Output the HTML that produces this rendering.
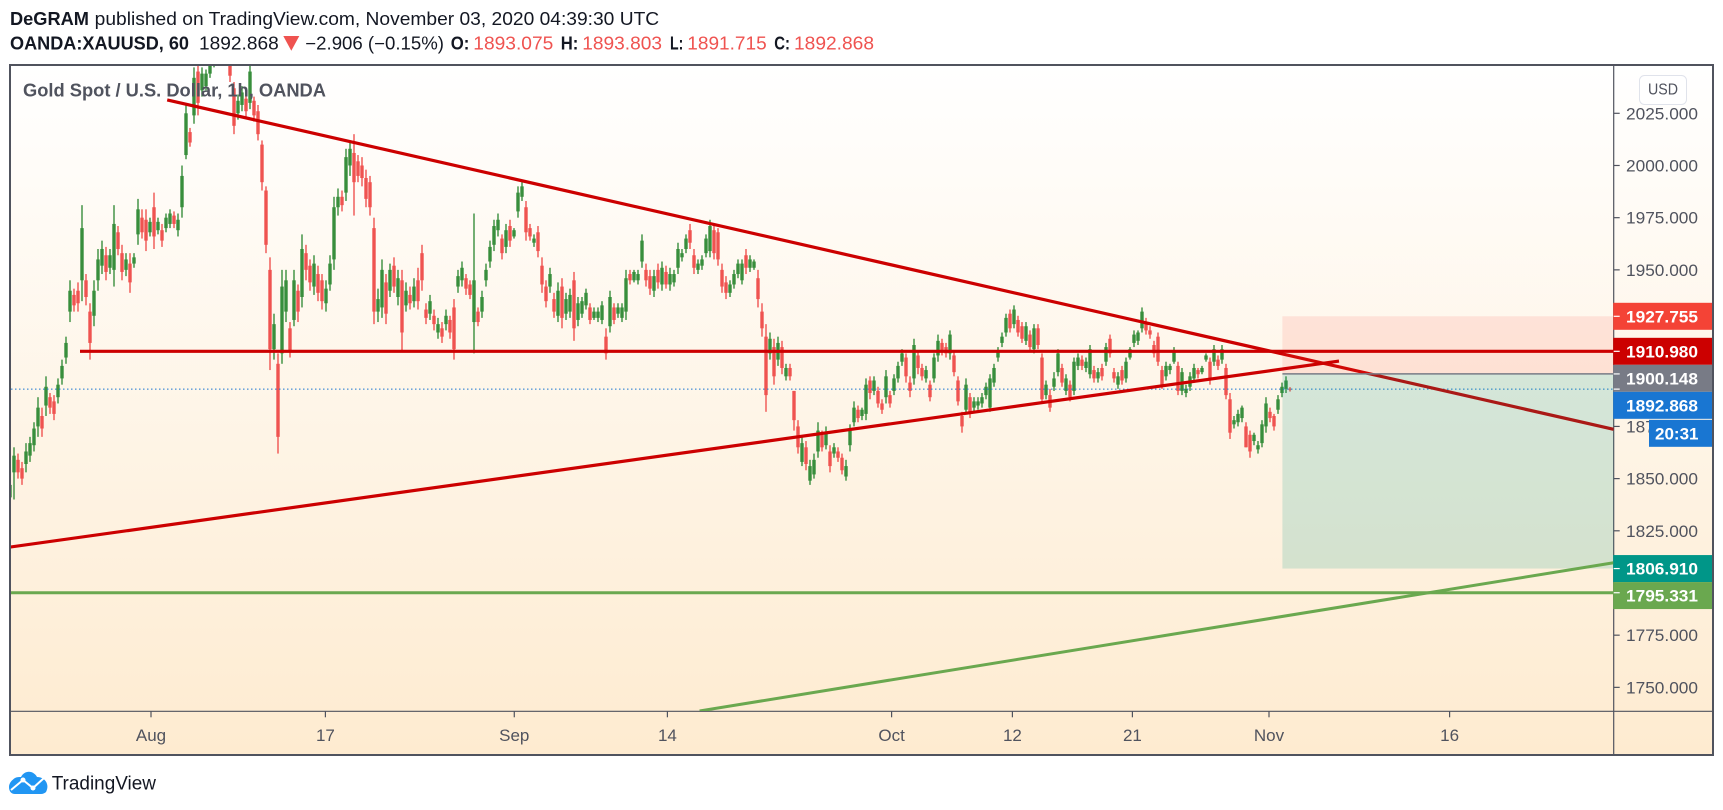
<!DOCTYPE html>
<html lang="en">
<head>
<meta charset="utf-8">
<title>OANDA:XAUUSD chart</title>
<style>
html,body{margin:0;padding:0;background:#fff;}
body{width:1723px;height:810px;overflow:hidden;font-family:"Liberation Sans",sans-serif;}
svg{display:block;}
text{font-family:"Liberation Sans",sans-serif;}
</style>
</head>
<body>
<svg id="chart" xmlns="http://www.w3.org/2000/svg" width="1723" height="810" viewBox="0 0 1723 810">
  <defs>
    <linearGradient id="bgGrad" x1="0" y1="0" x2="0" y2="1">
      <stop offset="0" stop-color="#ffffff"/>
      <stop offset="1" stop-color="#feebd0"/>
    </linearGradient>
    <clipPath id="paneClip"><rect x="11" y="66" width="1602.7" height="645"/></clipPath>
  </defs>

  <g font-size="18" fill="#131722">
    <text x="10" y="25" font-weight="bold" textLength="79" lengthAdjust="spacingAndGlyphs">DeGRAM</text>
    <text x="94.7" y="25" textLength="564.5" lengthAdjust="spacingAndGlyphs">published on TradingView.com, November 03, 2020 04:39:30 UTC</text>
    <text x="10" y="49.3" font-weight="bold" textLength="179" lengthAdjust="spacingAndGlyphs">OANDA:XAUUSD, 60</text>
    <text x="199" y="49.3" textLength="79.7" lengthAdjust="spacingAndGlyphs">1892.868</text>
    <polygon points="283.3,36 299.3,36 291.3,50.7" fill="#ef5350"/>
    <text x="305.3" y="49.3" textLength="138.7" lengthAdjust="spacingAndGlyphs">−2.906 (−0.15%)</text>
    <text x="450.7" y="49.3" font-weight="bold" textLength="18.6" lengthAdjust="spacingAndGlyphs">O:</text>
    <text x="473.3" y="49.3" fill="#ef5350" textLength="80" lengthAdjust="spacingAndGlyphs">1893.075</text>
    <text x="560.7" y="49.3" font-weight="bold" textLength="17.6" lengthAdjust="spacingAndGlyphs">H:</text>
    <text x="582.3" y="49.3" fill="#ef5350" textLength="79.7" lengthAdjust="spacingAndGlyphs">1893.803</text>
    <text x="670" y="49.3" font-weight="bold" textLength="13.3" lengthAdjust="spacingAndGlyphs">L:</text>
    <text x="687.3" y="49.3" fill="#ef5350" textLength="79.4" lengthAdjust="spacingAndGlyphs">1891.715</text>
    <text x="774.3" y="49.3" font-weight="bold" textLength="15.7" lengthAdjust="spacingAndGlyphs">C:</text>
    <text x="794" y="49.3" fill="#ef5350" textLength="80" lengthAdjust="spacingAndGlyphs">1892.868</text>
  </g>

  <rect x="10" y="65" width="1703" height="690" fill="url(#bgGrad)"/>
  <g id="axes"></g>
  <g id="marks" clip-path="url(#paneClip)"></g>
  <text x="23" y="96.7" font-size="18" font-weight="bold" fill="#50535e" textLength="303" lengthAdjust="spacingAndGlyphs">Gold Spot / U.S. Dollar, 1h, OANDA</text>
  <g id="tags"></g>

  <g>
    <rect x="1639.5" y="75.5" width="47" height="29" rx="5" fill="#ffffff" fill-opacity="0.8" stroke="#e0e3eb"/>
    <text x="1663" y="94.5" font-size="16" fill="#50535e" text-anchor="middle" textLength="30" lengthAdjust="spacingAndGlyphs">USD</text>
  </g>

  <rect x="10" y="65" width="1703" height="690" fill="none" stroke="#50535e" stroke-width="2"/>

  <g>
    <path d="M9 787c0-4 3-7 6-9 2-1 4-1 6-1 2-4 6-6 10-5 3 1 5 3 6 5 5 0 9 3 10 7 1 3 0 6-1 8-1 1-3 2-5 2H15c-4 0-6-3-6-7z" fill="#2196f3"/>
    <polyline points="11,790 23,780 33,788 44,778" fill="none" stroke="#ffffff" stroke-width="2"/>
    <circle cx="23" cy="780" r="2.5" fill="#ffffff"/>
    <circle cx="33" cy="788" r="2.5" fill="#ffffff"/>
    <text x="51.7" y="789.3" font-size="19" fill="#131722" textLength="104.3" lengthAdjust="spacingAndGlyphs">TradingView</text>
  </g>
</svg>
<script>
/* hourly candles, one bar per array slot; values in USD */
const opens = [
1841,1853,1859,1855,1857,1861,1866,1875,1880,1885,
1889,1887,1889,1898,1908,1930,1938,1940,1945,1945,
1930,1928,1945,1952,1957,1951,1950,1968,1958,1950,
1953,1953,1967,1975,1974,1968,1980,1969,1969,1970,
1972,1976,1969,1980,2005,2016,2024,2045,2036,2038,
2044,2050,2056,2069,2063,2055,2037,2025,2029,2032,
2030,2031,2026,2010,1988,1950,1912,1905,1910,1930,
1922,1926,1940,1937,1958,1952,1942,1948,1945,1934,
1943,1955,1980,1985,1987,2000,2006,2002,2000,1994,
1992,1970,1930,1932,1944,1940,1952,1937,1945,1933,
1938,1935,1945,1958,1931,1929,1928,1920,1922,1924,
1926,1932,1942,1945,1946,1943,1925,1930,1930,1945,
1954,1962,1969,1965,1961,1971,1966,1978,1985,1980,
1970,1963,1968,1952,1942,1942,1936,1928,1942,1929,
1930,1945,1926,1929,1933,1932,1927,1927,1926,1918,
1923,1932,1929,1927,1930,1948,1945,1945,1954,1950,
1947,1940,1950,1943,1949,1943,1944,1951,1956,1960,
1969,1957,1950,1952,1958,1959,1969,1968,1950,1944,
1939,1943,1948,1945,1957,1951,1951,1946,1930,1918,
1910,1913,1907,1913,1899,1903,1892,1875,1858,1865,
1849,1852,1863,1871,1866,1863,1862,1863,1860,1851,
1866,1877,1883,1880,1881,1897,1892,1892,1886,1889,
1890,1892,1898,1906,1908,1896,1898,1909,1903,1898,
1895,1898,1909,1915,1913,1910,1909,1897,1880,1883,
1889,1884,1885,1886,1890,1884,1896,1908,1915,1920,
1929,1924,1926,1923,1916,1919,1912,1922,1908,1890,
1890,1894,1901,1903,1892,1895,1892,1904,1907,1903,
1900,1902,1898,1903,1906,1917,1901,1895,1902,1898,
1908,1915,1916,1922,1925,1921,1914,1918,1902,1899,
1902,1906,1904,1892,1891,1894,1898,1902,1901,1907,
1906,1906,1907,1907,1903,1888,1876,1877,1879,1875,
1871,1868,1864,1867,1875,1882,1880,1883,1891,1893,
1893.075];
const highs = [
1850,1865,1862,1858,1867,1870,1877,1889,1884,1899,
1891,1890,1898,1907,1918,1945,1941,1944,1981,1948,
1934,1945,1960,1964,1961,1960,1981,1971,1962,1958,
1958,1958,1984,1979,1979,1975,1987,1975,1972,1977,
1979,1978,1977,2000,2029,2018,2047,2052,2047,2046,
2052,2060,2068,2072,2066,2058,2040,2034,2038,2035,
2055,2033,2029,2012,1990,1956,1929,1910,1950,1950,
1925,1950,1943,1967,1962,1955,1957,1952,1948,1945,
1957,1985,1989,1988,2008,2011,2015,2005,2004,1998,
1995,1975,1941,1955,1948,1953,1956,1950,1950,1944,
1942,1946,1951,1962,1934,1938,1931,1927,1925,1931,
1928,1936,1950,1954,1948,1945,1977,1932,1940,1953,
1964,1974,1977,1967,1972,1974,1970,1990,1992,1983,
1972,1967,1971,1956,1945,1951,1939,1944,1946,1939,
1941,1949,1937,1937,1941,1934,1932,1932,1935,1922,
1940,1934,1934,1934,1950,1950,1950,1950,1967,1953,
1950,1950,1953,1954,1952,1951,1950,1963,1960,1967,
1972,1960,1955,1957,1967,1974,1972,1970,1953,1947,
1945,1950,1955,1955,1960,1957,1955,1950,1934,1924,
1920,1917,1918,1916,1905,1905,1892,1878,1870,1868,
1859,1862,1877,1873,1875,1866,1867,1865,1862,1859,
1876,1887,1885,1884,1898,1899,1899,1894,1888,1902,
1892,1900,1906,1912,1910,1899,1917,1911,1905,1904,
1897,1910,1919,1917,1915,1921,1911,1899,1882,1898,
1891,1889,1889,1891,1896,1900,1905,1913,1920,1929,
1931,1933,1928,1925,1925,1921,1924,1924,1910,1897,
1893,1901,1912,1905,1900,1897,1908,1910,1909,1908,
1914,1904,1903,1905,1915,1919,1903,1901,1904,1908,
1913,1921,1921,1932,1927,1923,1916,1920,1904,1906,
1905,1913,1906,1903,1895,1901,1905,1903,1904,1910,
1908,1914,1909,1914,1905,1891,1880,1883,1885,1877,
1873,1872,1868,1878,1889,1884,1881,1890,1896,1899,
1893.803];
const lows = [
1838,1840,1850,1847,1853,1858,1863,1870,1870,1880,
1881,1878,1886,1895,1905,1925,1930,1930,1935,1933,
1907,1923,1940,1948,1945,1948,1942,1957,1945,1947,
1939,1951,1962,1965,1959,1966,1960,1967,1961,1968,
1970,1970,1966,1975,2003,2009,2020,2024,2033,2036,
2042,2047,2053,2057,2052,2040,2015,2022,2026,2023,
2027,2021,2012,1988,1958,1902,1907,1862,1905,1925,
1908,1923,1925,1932,1945,1940,1938,1935,1931,1930,
1940,1950,1976,1978,1983,1995,1976,1992,1990,1980,
1976,1924,1925,1927,1924,1937,1939,1933,1911,1930,
1931,1932,1931,1940,1924,1926,1921,1917,1915,1921,
1917,1907,1939,1942,1938,1936,1910,1923,1927,1942,
1951,1959,1966,1955,1958,1961,1965,1975,1983,1964,
1964,1961,1956,1939,1932,1939,1927,1925,1922,1926,
1927,1916,1923,1927,1931,1924,1926,1925,1924,1907,
1920,1924,1927,1925,1926,1943,1944,1943,1951,1942,
1938,1937,1941,1940,1941,1940,1942,1948,1954,1958,
1960,1948,1948,1950,1956,1956,1955,1952,1939,1936,
1937,1941,1946,1943,1948,1949,1950,1932,1918,1882,
1907,1895,1904,1900,1897,1897,1873,1862,1856,1854,
1847,1850,1860,1863,1864,1853,1860,1858,1852,1849,
1863,1875,1877,1878,1878,1888,1890,1884,1881,1886,
1884,1890,1896,1904,1896,1889,1895,1900,1897,1896,
1887,1896,1906,1909,1908,1907,1899,1885,1872,1881,
1879,1882,1883,1884,1888,1882,1894,1906,1913,1918,
1920,1922,1918,1915,1914,1911,1910,1912,1886,1888,
1882,1892,1899,1894,1890,1887,1890,1902,1902,1901,
1898,1896,1896,1897,1904,1908,1896,1893,1895,1896,
1907,1913,1914,1920,1919,1917,1908,1904,1893,1897,
1900,1905,1890,1890,1889,1892,1896,1898,1900,1906,
1895,1904,1902,1905,1888,1869,1874,1875,1877,1865,
1860,1866,1862,1865,1872,1877,1873,1881,1889,1891,
1891.715];
const closes = [
1847,1861,1853,1850,1863,1867,1874,1884,1874,1894,
1884,1881,1895,1904,1915,1940,1933,1934,1970,1937,
1915,1940,1955,1960,1949,1957,1972,1960,1949,1955,
1944,1956,1979,1968,1964,1973,1966,1973,1964,1975,
1977,1972,1974,1995,2025,2011,2042,2030,2044,2044,
2050,2057,2065,2060,2055,2043,2019,2031,2035,2026,
2045,2024,2015,1992,1962,1912,1924,1870,1942,1945,
1911,1945,1930,1960,1950,1944,1953,1939,1935,1941,
1953,1980,1985,1981,2004,2008,1992,1995,1994,1984,
1980,1930,1936,1950,1929,1950,1942,1946,1920,1940,
1934,1942,1935,1945,1927,1935,1924,1924,1918,1928,
1920,1912,1947,1951,1941,1938,1945,1925,1937,1950,
1961,1971,1974,1958,1969,1964,1969,1987,1990,1968,
1966,1965,1959,1943,1935,1948,1930,1940,1927,1936,
1938,1922,1934,1935,1939,1926,1930,1930,1933,1910,
1937,1926,1932,1932,1946,1945,1949,1948,1964,1945,
1941,1947,1944,1951,1943,1948,1948,1960,1958,1965,
1963,1951,1953,1955,1965,1971,1958,1955,1942,1939,
1943,1948,1953,1953,1951,1955,1954,1936,1922,1890,
1917,1899,1915,1903,1903,1899,1878,1865,1867,1857,
1856,1859,1873,1865,1872,1856,1865,1860,1854,1856,
1873,1884,1879,1883,1895,1891,1897,1886,1883,1899,
1886,1898,1904,1910,1899,1892,1914,1903,1899,1902,
1889,1908,1916,1911,1910,1919,1901,1887,1875,1895,
1881,1887,1887,1889,1894,1898,1903,1911,1918,1927,
1922,1931,1920,1917,1923,1913,1922,1914,1888,1895,
1884,1898,1910,1896,1898,1889,1906,1908,1904,1906,
1912,1898,1901,1899,1913,1910,1898,1899,1897,1906,
1912,1919,1920,1930,1921,1919,1910,1906,1895,1904,
1904,1911,1892,1901,1893,1899,1903,1900,1903,1909,
1897,1912,1904,1912,1890,1872,1878,1881,1884,1865,
1863,1871,1866,1876,1886,1879,1875,1888,1894,1897,
1892.868];

/* axis data */
const priceTicks = [2025, 2000, 1975, 1950, 1875, 1850, 1825, 1775, 1750];
const timeLabels = ["Aug", "17", "Sep", "14", "Oct", "12", "21", "Nov", "16"];
const timeBars = [35.25, 78.85, 126.07, 164.35, 220.4, 250.6, 280.6, 314.75, 359.9];

/* drawing-tool anchors as [bar, price] */
const resistanceTrend = [[39.3, 2031.4], [400.9, 1873.6]];
const supportTrend = [[0, 1817.2], [332.25, 1906.3]];
const lowerGreenTrend = [[172.4, 1738.7], [400.9, 1809.7]];
const entryLevel = [[17.5, 1910.98], [400.9, 1910.98]];
const targetLevel = [[0, 1795.331], [400.9, 1795.331]];
const positionBars = [318.1, 400.9];
const positionPrices = [1927.755, 1900.148, 1806.91];

/* labelled prices on the right axis */
const lastPrice = 1892.868;
const countdown = "20:31";

const NS = "http://www.w3.org/2000/svg";
function xOfBar(b) { return 10 + b * 4; }
function yOfPrice(p) { return 113.3 + (2025 - p) * 2.0875; }
function mk(tag, attrs, parent) {
  const el = document.createElementNS(NS, tag);
  for (const k in attrs) el.setAttribute(k, attrs[k]);
  parent.appendChild(el);
  return el;
}

const axes = document.getElementById("axes");
const marks = document.getElementById("marks");
const tags = document.getElementById("tags");
const AXIS = "#50535e";
const PANE_R = 1613.7, PANE_B = 711.3;

/* axis rules */
const priceRule = mk("line", {x1: PANE_R, x2: PANE_R, y1: 65, y2: 755, stroke: AXIS, "stroke-width": 1.2}, axes);


const timeRule = mk("line", {x1: 10, x2: 1713, y1: PANE_B, y2: PANE_B, stroke: AXIS, "stroke-width": 1.2}, axes);



priceTicks.forEach(function (p) {
  const y = yOfPrice(p);
  const tick = mk("line", {x1: PANE_R, x2: PANE_R + 6, y1: y, y2: y, stroke: AXIS, "stroke-width": 1.2}, axes);
  
  
  const label = mk("text", {x: 1626, y: y + 6, "font-size": 17, fill: AXIS, textLength: 72, lengthAdjust: "spacingAndGlyphs"}, axes);
  
  
  label.textContent = p.toFixed(3);
});

timeLabels.forEach(function (t, i) {
  const x = xOfBar(timeBars[i]);
  const tick = mk("line", {x1: x, x2: x, y1: PANE_B, y2: PANE_B + 6, stroke: AXIS, "stroke-width": 1.2}, axes);
  
  
  const label = mk("text", {x: x, y: 741, "font-size": 17, fill: AXIS, "text-anchor": "middle"}, axes);
  
  
  label.textContent = t;
});

/* candles */
const UP = "#388e3c", DOWN = "#ef5350";
opens.forEach(function (o, i) {
  const c = closes[i];
  const color = c >= o ? UP : DOWN;
  const x = xOfBar(i);
  const wick = mk("line", {x1: x, x2: x, y1: yOfPrice(highs[i]), y2: yOfPrice(lows[i]), stroke: color, "stroke-width": 1.4}, marks);
  
  
  const top = yOfPrice(Math.max(o, c));
  const h = Math.max(1, Math.abs(yOfPrice(o) - yOfPrice(c)));
  const body = mk("rect", {x: x - 1.7, y: top, width: 3.4, height: h, fill: color}, marks);
  
  
});

/* last price dotted line */
const lastY = yOfPrice(lastPrice);
const lastLine = mk("line", {x1: 11, x2: PANE_R, y1: lastY, y2: lastY, stroke: "#1976d2", "stroke-width": 1, "stroke-dasharray": "1.5 2.5"}, marks);



function segment(pts, color, width) {
  return mk("line", {x1: xOfBar(pts[0][0]), y1: yOfPrice(pts[0][1]), x2: xOfBar(pts[1][0]), y2: yOfPrice(pts[1][1]), stroke: color, "stroke-width": width}, marks);
}

const resLine = segment(resistanceTrend, "#cc0000", 3.2);



/* short position box */
const px0 = xOfBar(positionBars[0]), px1 = xOfBar(positionBars[1]);
const y0 = yOfPrice(positionPrices[0]), y1 = yOfPrice(positionPrices[1]), y2 = yOfPrice(positionPrices[2]);
const stopZone = mk("rect", {x: px0, y: y0, width: px1 - px0, height: y1 - y0, fill: "#f44336", "fill-opacity": 0.117}, marks);


const targetZone = mk("rect", {x: px0, y: y1, width: px1 - px0, height: y2 - y1, fill: "#009688", "fill-opacity": 0.165}, marks);


const entryRule = mk("line", {x1: px0, x2: px1, y1: y1, y2: y1, stroke: "#787b86", "stroke-width": 1.5}, marks);



const entryLine = segment(entryLevel, "#cc0000", 3.2);


const supLine = segment(supportTrend, "#cc0000", 3.2);


const targetLine = segment(targetLevel, "#6aa84f", 3);


const greenTrend = segment(lowerGreenTrend, "#6aa84f", 3);



/* price tags: stacked so that a tag never overlaps the one above it */
let prevBottom = 0;
function priceTag(price, color, name) {
  const cy = yOfPrice(price);
  const top = Math.max(cy - 13.5, prevBottom);
  prevBottom = top + 27;
  const box = mk("rect", {x: PANE_R - 0.5, y: top, width: 98.8, height: 27, fill: color}, tags);
  
  
  const tick = mk("line", {x1: PANE_R, x2: PANE_R + 6, y1: cy, y2: cy, stroke: "#ffffff", "stroke-width": 1.2}, tags);
  
  
  const label = mk("text", {x: 1626, y: top + 19.5, "font-size": 17, "font-weight": "bold", fill: "#ffffff", textLength: 72, lengthAdjust: "spacingAndGlyphs"}, tags);
  
  
  label.textContent = price.toFixed(3);
}
priceTag(1927.755, "#f44336", "stop-loss");
priceTag(1910.98, "#cc0000", "horizontal-resistance");
priceTag(1900.148, "#787b86", "position-entry");
priceTag(lastPrice, "#1976d2", "last-price");

const cdBox = mk("rect", {x: 1649, y: prevBottom + 1, width: 63.2, height: 27, fill: "#1976d2"}, tags);


const cdText = mk("text", {x: 1655, y: prevBottom + 20.5, "font-size": 17, "font-weight": "bold", fill: "#ffffff"}, tags);


cdText.textContent = countdown;

prevBottom = 0;
priceTag(1806.91, "#009688", "take-profit");
priceTag(1795.331, "#6aa84f", "horizontal-target");
</script>
</body>
</html>
